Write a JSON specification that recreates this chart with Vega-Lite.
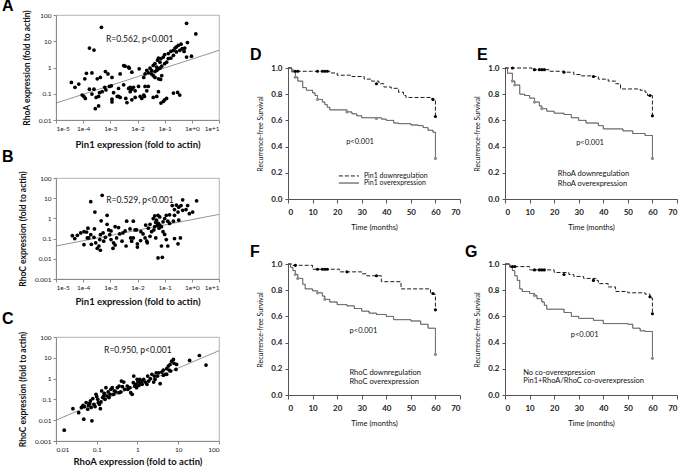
{
"$schema": "https://vega.github.io/schema/vega-lite/v6.json",
"background": "white",
"padding": {"left": 1, "top": -3, "right": 0, "bottom": 0},
"spacing": 29,
"config": {
  "font": "Lato",
  "view": {"stroke": null},
  "text": {"font": "Lato", "color": "#111"},
  "title": {"font": "Liberation Sans", "fontSize": 16, "fontWeight": "bold", "anchor": "start", "frame": "group", "baseline": "alphabetic", "color": "black"},
  "axis": {"grid": false, "labelFont": "Lato", "titleFont": "Lato", "labelColor": "#222", "titleColor": "#111", "tickSize": 3, "labelPadding": 2, "domainColor": "#8a8a8a", "tickColor": "#8a8a8a", "labelOverlap": false}
},
"datasets": {
  "A": [
    {"pin1":0.00047,"rhoa":34},{"pin1":0.64,"rhoa":48},{"pin1":1.4,"rhoa":19},{"pin1":0.00017,"rhoa":5.5},{"pin1":0.00025,"rhoa":4.6},
    {"pin1":0.40,"rhoa":7.7},{"pin1":0.32,"rhoa":7.0},{"pin1":0.27,"rhoa":6.1},{"pin1":0.24,"rhoa":5.5},{"pin1":0.21,"rhoa":4.5},
    {"pin1":0.17,"rhoa":4.1},{"pin1":0.136,"rhoa":3.4},{"pin1":0.10,"rhoa":3.1},{"pin1":0.089,"rhoa":2.5},{"pin1":0.073,"rhoa":2.2},
    {"pin1":0.059,"rhoa":2.3},{"pin1":0.055,"rhoa":1.9},{"pin1":0.067,"rhoa":1.6},{"pin1":0.044,"rhoa":1.4},{"pin1":0.038,"rhoa":1.2},
    {"pin1":0.051,"rhoa":1.03},{"pin1":0.059,"rhoa":0.89},{"pin1":0.033,"rhoa":0.77},{"pin1":0.029,"rhoa":0.94},{"pin1":0.022,"rhoa":0.77},
    {"pin1":0.025,"rhoa":0.62},{"pin1":0.033,"rhoa":0.57},{"pin1":0.044,"rhoa":0.70},{"pin1":0.051,"rhoa":0.77},{"pin1":0.067,"rhoa":0.94},
    {"pin1":0.078,"rhoa":1.12},{"pin1":0.118,"rhoa":1.6},{"pin1":0.136,"rhoa":2.2},{"pin1":0.17,"rhoa":2.3},{"pin1":0.21,"rhoa":2.9},
    {"pin1":0.27,"rhoa":3.9},{"pin1":0.36,"rhoa":4.5},{"pin1":0.44,"rhoa":5.2},{"pin1":0.55,"rhoa":5.5},{"pin1":0.69,"rhoa":8.9},
    {"pin1":0.52,"rhoa":4.1},{"pin1":0.64,"rhoa":2.5},{"pin1":0.97,"rhoa":2.7},{"pin1":0.10,"rhoa":1.4},{"pin1":0.078,"rhoa":0.49},
    {"pin1":0.059,"rhoa":0.37},{"pin1":0.071,"rhoa":0.35},{"pin1":0.038,"rhoa":0.49},{"pin1":0.044,"rhoa":0.42},{"pin1":0.017,"rhoa":0.42},
    {"pin1":0.019,"rhoa":0.57},{"pin1":0.0115,"rhoa":0.89},{"pin1":0.0062,"rhoa":0.66},{"pin1":0.0050,"rhoa":0.94},{"pin1":0.0035,"rhoa":1.12},
    {"pin1":0.059,"rhoa":0.12},{"pin1":0.051,"rhoa":0.079},{"pin1":0.073,"rhoa":0.044},{"pin1":0.089,"rhoa":0.051},{"pin1":0.10,"rhoa":0.059},
    {"pin1":0.118,"rhoa":0.066},{"pin1":0.21,"rhoa":0.106},{"pin1":0.30,"rhoa":0.112},{"pin1":0.36,"rhoa":0.089},{"pin1":0.038,"rhoa":0.072},
    {"pin1":0.019,"rhoa":0.19},{"pin1":0.025,"rhoa":0.19},{"pin1":0.022,"rhoa":0.13},{"pin1":0.017,"rhoa":0.089},{"pin1":0.0144,"rhoa":0.066},
    {"pin1":0.0125,"rhoa":0.079},{"pin1":0.0082,"rhoa":0.072},{"pin1":0.0062,"rhoa":0.059},{"pin1":0.0054,"rhoa":0.12},{"pin1":0.0054,"rhoa":0.175},
    {"pin1":0.0062,"rhoa":0.15},{"pin1":0.0071,"rhoa":0.175},{"pin1":0.0047,"rhoa":0.16},{"pin1":0.0031,"rhoa":0.22},{"pin1":0.0020,"rhoa":0.16},
    {"pin1":0.0023,"rhoa":0.072},{"pin1":0.0018,"rhoa":0.079},{"pin1":0.00115,"rhoa":0.062},{"pin1":0.00132,"rhoa":0.11},{"pin1":0.00109,"rhoa":0.20},
    {"pin1":0.00092,"rhoa":0.19},{"pin1":0.00069,"rhoa":0.14},{"pin1":0.00062,"rhoa":0.175},{"pin1":0.00050,"rhoa":0.12},{"pin1":0.00040,"rhoa":0.11},
    {"pin1":0.00037,"rhoa":0.079},{"pin1":0.00030,"rhoa":0.072},{"pin1":0.00025,"rhoa":0.15},{"pin1":0.00021,"rhoa":0.097},{"pin1":0.00017,"rhoa":0.15},
    {"pin1":0.00012,"rhoa":0.066},{"pin1":0.000106,"rhoa":0.079},{"pin1":0.000092,"rhoa":0.089},{"pin1":0.000069,"rhoa":0.235},{"pin1":0.00005,"rhoa":0.175},
    {"pin1":0.000037,"rhoa":0.27},{"pin1":0.000115,"rhoa":0.37},{"pin1":0.000132,"rhoa":0.6},{"pin1":0.00021,"rhoa":0.62},{"pin1":0.00033,"rhoa":0.37},
    {"pin1":0.00043,"rhoa":0.42},{"pin1":0.00066,"rhoa":0.70},{"pin1":0.00082,"rhoa":0.57},{"pin1":0.00115,"rhoa":0.42},{"pin1":0.0023,"rhoa":0.57},
    {"pin1":0.0031,"rhoa":1.19},{"pin1":0.0047,"rhoa":1.03},{"pin1":0.00037,"rhoa":0.0345},{"pin1":0.00028,"rhoa":0.027},{"pin1":0.00115,"rhoa":0.049},
    {"pin1":0.0020,"rhoa":0.079},{"pin1":0.0037,"rhoa":0.066},{"pin1":0.0041,"rhoa":0.046},{"pin1":0.0109,"rhoa":0.19},{"pin1":0.0082,"rhoa":0.13},
    {"pin1":0.018,"rhoa":0.079}
  ],
  "B": [
    {"pin1":0.0005,"rhoc":13.9},{"pin1":0.00019,"rhoc":6.7},{"pin1":0.00027,"rhoc":2.05},{"pin1":0.00076,"rhoc":1.42},{"pin1":0.00046,"rhoc":0.76},
    {"pin1":1.5,"rhoc":7.4},{"pin1":0.46,"rhoc":8.3},{"pin1":0.40,"rhoc":4.3},{"pin1":0.33,"rhoc":3.6},{"pin1":0.27,"rhoc":4.6},
    {"pin1":0.19,"rhoc":4.3},{"pin1":0.61,"rhoc":2.75},{"pin1":0.70,"rhoc":4.3},{"pin1":1.07,"rhoc":2.05},{"pin1":0.81,"rhoc":1.7},
    {"pin1":0.31,"rhoc":2.05},{"pin1":0.23,"rhoc":1.42},{"pin1":0.33,"rhoc":0.82},{"pin1":0.23,"rhoc":2.75},{"pin1":0.152,"rhoc":1.5},
    {"pin1":0.115,"rhoc":1.42},{"pin1":0.1,"rhoc":0.98},{"pin1":0.13,"rhoc":0.73},{"pin1":0.087,"rhoc":0.68},{"pin1":0.066,"rhoc":1.18},
    {"pin1":0.057,"rhoc":1.42},{"pin1":0.043,"rhoc":1.32},{"pin1":0.038,"rhoc":0.98},{"pin1":0.050,"rhoc":0.82},{"pin1":0.047,"rhoc":0.63},
    {"pin1":0.059,"rhoc":0.56},{"pin1":0.066,"rhoc":0.47},{"pin1":0.076,"rhoc":0.39},{"pin1":0.062,"rhoc":0.33},{"pin1":0.053,"rhoc":0.44},
    {"pin1":0.043,"rhoc":0.39},{"pin1":0.04,"rhoc":0.27},{"pin1":0.029,"rhoc":0.51},{"pin1":0.025,"rhoc":0.33},{"pin1":0.020,"rhoc":0.47},
    {"pin1":0.033,"rhoc":0.22},{"pin1":0.087,"rhoc":0.22},{"pin1":0.1,"rhoc":0.16},{"pin1":0.115,"rhoc":0.09},{"pin1":0.13,"rhoc":0.043},
    {"pin1":0.076,"rhoc":0.043},{"pin1":0.047,"rhoc":0.108},{"pin1":0.057,"rhoc":0.011},{"pin1":0.082,"rhoc":0.0118},{"pin1":0.23,"rhoc":0.1},
    {"pin1":0.31,"rhoc":0.055},{"pin1":0.38,"rhoc":0.108},{"pin1":0.016,"rhoc":0.17},{"pin1":0.019,"rhoc":0.108},{"pin1":0.022,"rhoc":0.074},
    {"pin1":0.013,"rhoc":0.08},{"pin1":0.0099,"rhoc":0.038},{"pin1":0.0099,"rhoc":0.055},{"pin1":0.007,"rhoc":0.108},{"pin1":0.0081,"rhoc":0.27},
    {"pin1":0.0053,"rhoc":0.30},{"pin1":0.0056,"rhoc":0.108},{"pin1":0.0061,"rhoc":0.074},{"pin1":0.0040,"rhoc":0.73},{"pin1":0.0029,"rhoc":0.19},
    {"pin1":0.0027,"rhoc":0.074},{"pin1":0.0020,"rhoc":0.35},{"pin1":0.0015,"rhoc":0.39},{"pin1":0.0022,"rhoc":0.17},{"pin1":0.0017,"rhoc":0.108},
    {"pin1":0.0015,"rhoc":0.048},{"pin1":0.00125,"rhoc":0.033},{"pin1":0.00132,"rhoc":0.062},{"pin1":0.00095,"rhoc":0.156},{"pin1":0.00087,"rhoc":0.27},
    {"pin1":0.00106,"rhoc":0.24},{"pin1":0.00076,"rhoc":0.51},{"pin1":0.00066,"rhoc":0.116},{"pin1":0.00057,"rhoc":0.074},{"pin1":0.00054,"rhoc":0.19},
    {"pin1":0.00043,"rhoc":0.156},{"pin1":0.00041,"rhoc":0.09},{"pin1":0.00038,"rhoc":0.043},{"pin1":0.00043,"rhoc":0.0265},{"pin1":0.00033,"rhoc":0.033},
    {"pin1":0.00029,"rhoc":0.062},{"pin1":0.00025,"rhoc":0.116},{"pin1":0.00026,"rhoc":0.30},{"pin1":0.00019,"rhoc":0.156},{"pin1":0.00016,"rhoc":0.108},
    {"pin1":0.0002,"rhoc":0.052},{"pin1":0.000107,"rhoc":0.05},{"pin1":0.000142,"rhoc":0.108},{"pin1":0.000134,"rhoc":0.21},{"pin1":0.00015,"rhoc":0.33},
    {"pin1":0.000107,"rhoc":0.22},{"pin1":0.000081,"rhoc":0.19},{"pin1":0.000061,"rhoc":0.145},{"pin1":0.00004,"rhoc":0.14},{"pin1":0.000049,"rhoc":0.10},
    {"pin1":0.0035,"rhoc":0.24},{"pin1":0.007,"rhoc":0.73},{"pin1":0.0134,"rhoc":0.22},{"pin1":0.0093,"rhoc":0.27},{"pin1":0.0038,"rhoc":0.043},
    {"pin1":0.00106,"rhoc":0.09},{"pin1":0.029,"rhoc":0.13},{"pin1":0.023,"rhoc":0.062},{"pin1":0.152,"rhoc":0.56},{"pin1":0.21,"rhoc":0.73},
    {"pin1":0.46,"rhoc":2.5}
  ],
  "C": [
    {"rhoa":0.0159,"rhoc":0.0033},{"rhoa":0.026,"rhoc":0.036},{"rhoa":0.036,"rhoc":0.023},{"rhoa":0.048,"rhoc":0.0112},{"rhoa":0.076,"rhoc":0.0093},
    {"rhoa":0.042,"rhoc":0.041},{"rhoa":0.050,"rhoc":0.045},{"rhoa":0.055,"rhoc":0.070},{"rhoa":0.063,"rhoc":0.052},{"rhoa":0.070,"rhoc":0.085},
    {"rhoa":0.073,"rhoc":0.041},{"rhoa":0.085,"rhoc":0.058},{"rhoa":0.080,"rhoc":0.109},{"rhoa":0.096,"rhoc":0.176},{"rhoa":0.106,"rhoc":0.101},
    {"rhoa":0.116,"rhoc":0.058},{"rhoa":0.123,"rhoc":0.036},{"rhoa":0.127,"rhoc":0.076},{"rhoa":0.14,"rhoc":0.122},{"rhoa":0.132,"rhoc":0.254},
    {"rhoa":0.153,"rhoc":0.196},{"rhoa":0.168,"rhoc":0.367},{"rhoa":0.178,"rhoc":0.147},{"rhoa":0.191,"rhoc":0.228},{"rhoa":0.214,"rhoc":0.176},
    {"rhoa":0.222,"rhoc":0.305},{"rhoa":0.258,"rhoc":0.176},{"rhoa":0.294,"rhoc":0.228},{"rhoa":0.353,"rhoc":0.211},{"rhoa":0.353,"rhoc":0.44},
    {"rhoa":0.403,"rhoc":0.766},{"rhoa":0.426,"rhoc":0.41},{"rhoa":0.484,"rhoc":0.305},{"rhoa":0.56,"rhoc":0.44},{"rhoa":0.65,"rhoc":0.367},
    {"rhoa":0.74,"rhoc":0.176},{"rhoa":0.68,"rhoc":0.211},{"rhoa":0.81,"rhoc":1.33},{"rhoa":0.90,"rhoc":0.53},{"rhoa":0.95,"rhoc":0.367},
    {"rhoa":1.02,"rhoc":0.685},{"rhoa":1.08,"rhoc":0.47},{"rhoa":1.18,"rhoc":0.64},{"rhoa":1.30,"rhoc":0.766},{"rhoa":1.14,"rhoc":0.92},
    {"rhoa":1.42,"rhoc":0.92},{"rhoa":1.56,"rhoc":0.685},{"rhoa":1.71,"rhoc":0.53},{"rhoa":1.88,"rhoc":0.766},{"rhoa":2.06,"rhoc":0.99},
    {"rhoa":2.26,"rhoc":1.6},{"rhoa":2.58,"rhoc":1.33},{"rhoa":2.88,"rhoc":1.91},{"rhoa":3.1,"rhoc":1.33},{"rhoa":3.6,"rhoc":0.57},
    {"rhoa":3.95,"rhoc":2.06},{"rhoa":4.3,"rhoc":2.57},{"rhoa":4.75,"rhoc":1.6},{"rhoa":5.2,"rhoc":2.98},{"rhoa":5.7,"rhoc":4.0},
    {"rhoa":6.3,"rhoc":4.8},{"rhoa":6.9,"rhoc":6.9},{"rhoa":7.6,"rhoc":8.3},{"rhoa":7.9,"rhoc":5.4},{"rhoa":8.8,"rhoc":2.77},
    {"rhoa":6.0,"rhoc":2.57},{"rhoa":5.2,"rhoc":1.6},{"rhoa":19,"rhoc":7.5},{"rhoa":33,"rhoc":12.9},{"rhoa":48,"rhoc":4.5},
    {"rhoa":9.1,"rhoc":4.8},{"rhoa":3.3,"rhoc":1.91},{"rhoa":2.7,"rhoc":0.92},{"rhoa":0.98,"rhoc":0.92},{"rhoa":0.79,"rhoc":0.64},
    {"rhoa":0.58,"rhoc":0.305},{"rhoa":0.46,"rhoc":0.685},{"rhoa":0.32,"rhoc":0.367},{"rhoa":0.27,"rhoc":0.254},{"rhoa":0.2,"rhoc":0.122},
    {"rhoa":0.16,"rhoc":0.101},{"rhoa":0.11,"rhoc":0.07},{"rhoa":0.091,"rhoc":0.045},{"rhoa":0.06,"rhoc":0.034},{"rhoa":0.046,"rhoc":0.052},
    {"rhoa":0.067,"rhoc":0.065},{"rhoa":0.10,"rhoc":0.136},{"rhoa":0.148,"rhoc":0.147},{"rhoa":0.24,"rhoc":0.367},{"rhoa":0.39,"rhoc":0.228},
    {"rhoa":0.85,"rhoc":0.44},{"rhoa":1.3,"rhoc":0.53},{"rhoa":1.78,"rhoc":1.33},{"rhoa":4.3,"rhoc":1.43},{"rhoa":6.5,"rhoc":2.3},
    {"rhoa":2.5,"rhoc":0.685}
  ],
  "fitA": [{"pin1":0.00001,"rhoa":0.044},{"pin1":10,"rhoa":4.5}],
  "fitB": [{"pin1":0.00001,"rhoc":0.043},{"pin1":10,"rhoc":1.58}],
  "fitC": [{"rhoa":0.01,"rhoc":0.01},{"rhoa":100,"rhoc":22}],
  "steps": [
    {"p":"D","g":"down","t":0,"s":1},{"p":"D","g":"down","t":2,"s":0.975},{"p":"D","g":"down","t":17,"s":0.962},{"p":"D","g":"down","t":20,"s":0.945},{"p":"D","g":"down","t":26,"s":0.935},{"p":"D","g":"down","t":31,"s":0.915},{"p":"D","g":"down","t":34,"s":0.9},{"p":"D","g":"down","t":37,"s":0.88},{"p":"D","g":"down","t":39,"s":0.855},{"p":"D","g":"down","t":42,"s":0.845},{"p":"D","g":"down","t":45,"s":0.815},{"p":"D","g":"down","t":47,"s":0.79},{"p":"D","g":"down","t":48,"s":0.775},{"p":"D","g":"down","t":58,"s":0.765},{"p":"D","g":"down","t":59,"s":0.755},{"p":"D","g":"down","t":60,"s":0.63},
    {"p":"D","g":"over","t":0,"s":1},{"p":"D","g":"over","t":1.5,"s":0.97},{"p":"D","g":"over","t":3,"s":0.93},{"p":"D","g":"over","t":4,"s":0.9},{"p":"D","g":"over","t":6,"s":0.85},{"p":"D","g":"over","t":7.5,"s":0.83},{"p":"D","g":"over","t":10,"s":0.81},{"p":"D","g":"over","t":11,"s":0.79},{"p":"D","g":"over","t":12,"s":0.76},{"p":"D","g":"over","t":14,"s":0.74},{"p":"D","g":"over","t":15,"s":0.72},{"p":"D","g":"over","t":16,"s":0.7},{"p":"D","g":"over","t":17,"s":0.68},{"p":"D","g":"over","t":24,"s":0.665},{"p":"D","g":"over","t":26,"s":0.65},{"p":"D","g":"over","t":28,"s":0.635},{"p":"D","g":"over","t":30,"s":0.62},{"p":"D","g":"over","t":38,"s":0.61},{"p":"D","g":"over","t":40,"s":0.6},{"p":"D","g":"over","t":43,"s":0.58},{"p":"D","g":"over","t":45,"s":0.575},{"p":"D","g":"over","t":50,"s":0.565},{"p":"D","g":"over","t":53,"s":0.56},{"p":"D","g":"over","t":55,"s":0.545},{"p":"D","g":"over","t":57,"s":0.525},{"p":"D","g":"over","t":59,"s":0.51},{"p":"D","g":"over","t":60,"s":0.31},
    {"p":"E","g":"down","t":0,"s":1},{"p":"E","g":"down","t":11,"s":0.987},{"p":"E","g":"down","t":18,"s":0.975},{"p":"E","g":"down","t":24,"s":0.968},{"p":"E","g":"down","t":28,"s":0.95},{"p":"E","g":"down","t":31,"s":0.94},{"p":"E","g":"down","t":35,"s":0.935},{"p":"E","g":"down","t":38,"s":0.915},{"p":"E","g":"down","t":42,"s":0.9},{"p":"E","g":"down","t":45,"s":0.88},{"p":"E","g":"down","t":47,"s":0.84},{"p":"E","g":"down","t":55,"s":0.83},{"p":"E","g":"down","t":57,"s":0.815},{"p":"E","g":"down","t":58,"s":0.79},{"p":"E","g":"down","t":60,"s":0.635},
    {"p":"E","g":"over","t":0,"s":1},{"p":"E","g":"over","t":1,"s":0.96},{"p":"E","g":"over","t":3,"s":0.9},{"p":"E","g":"over","t":4,"s":0.87},{"p":"E","g":"over","t":6,"s":0.8},{"p":"E","g":"over","t":8,"s":0.79},{"p":"E","g":"over","t":10,"s":0.77},{"p":"E","g":"over","t":12,"s":0.74},{"p":"E","g":"over","t":14,"s":0.71},{"p":"E","g":"over","t":15,"s":0.69},{"p":"E","g":"over","t":17,"s":0.67},{"p":"E","g":"over","t":20,"s":0.655},{"p":"E","g":"over","t":24,"s":0.645},{"p":"E","g":"over","t":27,"s":0.62},{"p":"E","g":"over","t":30,"s":0.6},{"p":"E","g":"over","t":33,"s":0.58},{"p":"E","g":"over","t":38,"s":0.56},{"p":"E","g":"over","t":40,"s":0.535},{"p":"E","g":"over","t":48,"s":0.52},{"p":"E","g":"over","t":52,"s":0.5},{"p":"E","g":"over","t":57,"s":0.485},{"p":"E","g":"over","t":60,"s":0.31},
    {"p":"F","g":"down","t":0,"s":1},{"p":"F","g":"down","t":2,"s":0.99},{"p":"F","g":"down","t":10,"s":0.96},{"p":"F","g":"down","t":21,"s":0.94},{"p":"F","g":"down","t":30,"s":0.925},{"p":"F","g":"down","t":32,"s":0.91},{"p":"F","g":"down","t":38,"s":0.865},{"p":"F","g":"down","t":46,"s":0.81},{"p":"F","g":"down","t":58,"s":0.78},{"p":"F","g":"down","t":59,"s":0.77},{"p":"F","g":"down","t":60,"s":0.65},
    {"p":"F","g":"over","t":0,"s":1},{"p":"F","g":"over","t":1,"s":0.975},{"p":"F","g":"over","t":2,"s":0.95},{"p":"F","g":"over","t":3,"s":0.92},{"p":"F","g":"over","t":4,"s":0.89},{"p":"F","g":"over","t":6,"s":0.845},{"p":"F","g":"over","t":7,"s":0.81},{"p":"F","g":"over","t":10,"s":0.795},{"p":"F","g":"over","t":12,"s":0.78},{"p":"F","g":"over","t":14,"s":0.755},{"p":"F","g":"over","t":15,"s":0.73},{"p":"F","g":"over","t":17,"s":0.71},{"p":"F","g":"over","t":20,"s":0.69},{"p":"F","g":"over","t":24,"s":0.68},{"p":"F","g":"over","t":27,"s":0.66},{"p":"F","g":"over","t":30,"s":0.64},{"p":"F","g":"over","t":33,"s":0.625},{"p":"F","g":"over","t":36,"s":0.615},{"p":"F","g":"over","t":40,"s":0.6},{"p":"F","g":"over","t":43,"s":0.575},{"p":"F","g":"over","t":50,"s":0.565},{"p":"F","g":"over","t":54,"s":0.54},{"p":"F","g":"over","t":57,"s":0.51},{"p":"F","g":"over","t":60,"s":0.31},
    {"p":"G","g":"down","t":0,"s":1},{"p":"G","g":"down","t":2,"s":0.98},{"p":"G","g":"down","t":10,"s":0.955},{"p":"G","g":"down","t":20,"s":0.935},{"p":"G","g":"down","t":26,"s":0.92},{"p":"G","g":"down","t":28,"s":0.905},{"p":"G","g":"down","t":32,"s":0.89},{"p":"G","g":"down","t":37,"s":0.875},{"p":"G","g":"down","t":38,"s":0.85},{"p":"G","g":"down","t":42,"s":0.825},{"p":"G","g":"down","t":45,"s":0.79},{"p":"G","g":"down","t":50,"s":0.78},{"p":"G","g":"down","t":57,"s":0.77},{"p":"G","g":"down","t":59,"s":0.74},{"p":"G","g":"down","t":60,"s":0.62},
    {"p":"G","g":"over","t":0,"s":1},{"p":"G","g":"over","t":2,"s":0.975},{"p":"G","g":"over","t":3,"s":0.95},{"p":"G","g":"over","t":4,"s":0.91},{"p":"G","g":"over","t":5,"s":0.875},{"p":"G","g":"over","t":6,"s":0.81},{"p":"G","g":"over","t":7,"s":0.79},{"p":"G","g":"over","t":10,"s":0.775},{"p":"G","g":"over","t":12,"s":0.76},{"p":"G","g":"over","t":13,"s":0.735},{"p":"G","g":"over","t":15,"s":0.71},{"p":"G","g":"over","t":16,"s":0.685},{"p":"G","g":"over","t":17,"s":0.655},{"p":"G","g":"over","t":24,"s":0.63},{"p":"G","g":"over","t":27,"s":0.6},{"p":"G","g":"over","t":30,"s":0.585},{"p":"G","g":"over","t":36,"s":0.57},{"p":"G","g":"over","t":40,"s":0.545},{"p":"G","g":"over","t":50,"s":0.54},{"p":"G","g":"over","t":52,"s":0.51},{"p":"G","g":"over","t":55,"s":0.49},{"p":"G","g":"over","t":57,"s":0.485},{"p":"G","g":"over","t":60,"s":0.28}
  ],
  "censor": [
    {"p":"D","g":"down","t":3,"s":0.975},{"p":"D","g":"down","t":4,"s":0.975},{"p":"D","g":"down","t":12,"s":0.975},{"p":"D","g":"down","t":14,"s":0.975},{"p":"D","g":"down","t":15,"s":0.975},{"p":"D","g":"down","t":16,"s":0.975},{"p":"D","g":"down","t":36,"s":0.88},{"p":"D","g":"down","t":59,"s":0.76},{"p":"D","g":"down","t":60,"s":0.63},
    {"p":"D","g":"over","t":3,"s":0.93},{"p":"D","g":"over","t":12,"s":0.76},{"p":"D","g":"over","t":24,"s":0.665},{"p":"D","g":"over","t":36,"s":0.615},{"p":"D","g":"over","t":60,"s":0.31},
    {"p":"E","g":"down","t":3,"s":1},{"p":"E","g":"down","t":12,"s":0.987},{"p":"E","g":"down","t":14,"s":0.987},{"p":"E","g":"down","t":15,"s":0.987},{"p":"E","g":"down","t":16,"s":0.987},{"p":"E","g":"down","t":24,"s":0.968},{"p":"E","g":"down","t":36,"s":0.935},{"p":"E","g":"down","t":59,"s":0.79},{"p":"E","g":"down","t":60,"s":0.635},
    {"p":"E","g":"over","t":3,"s":0.9},{"p":"E","g":"over","t":4,"s":0.87},{"p":"E","g":"over","t":12,"s":0.74},{"p":"E","g":"over","t":15,"s":0.69},{"p":"E","g":"over","t":60,"s":0.31},
    {"p":"F","g":"down","t":3,"s":0.99},{"p":"F","g":"down","t":12,"s":0.96},{"p":"F","g":"down","t":14,"s":0.96},{"p":"F","g":"down","t":15,"s":0.96},{"p":"F","g":"down","t":16,"s":0.96},{"p":"F","g":"down","t":24,"s":0.94},{"p":"F","g":"down","t":36,"s":0.91},{"p":"F","g":"down","t":59,"s":0.775},{"p":"F","g":"down","t":60,"s":0.65},
    {"p":"F","g":"over","t":3,"s":0.92},{"p":"F","g":"over","t":4,"s":0.89},{"p":"F","g":"over","t":12,"s":0.78},{"p":"F","g":"over","t":15,"s":0.73},{"p":"F","g":"over","t":60,"s":0.31},
    {"p":"G","g":"down","t":3,"s":0.98},{"p":"G","g":"down","t":4,"s":0.98},{"p":"G","g":"down","t":12,"s":0.955},{"p":"G","g":"down","t":14,"s":0.955},{"p":"G","g":"down","t":15,"s":0.955},{"p":"G","g":"down","t":16,"s":0.955},{"p":"G","g":"down","t":24,"s":0.92},{"p":"G","g":"down","t":36,"s":0.875},{"p":"G","g":"down","t":59,"s":0.75},{"p":"G","g":"down","t":60,"s":0.62},
    {"p":"G","g":"over","t":12,"s":0.76},{"p":"G","g":"over","t":60,"s":0.28}
  ]
},
"resolve": {"scale": {"x": "independent", "y": "independent"}},
"hconcat": [
  {
    "vconcat": [
      {
        "title": {"text": "A", "dx": -54, "offset": -4},
        "width": 163, "height": 105,
        "view": {"stroke": "#a0a0a0", "strokeWidth": 0.8},
        "layer": [
          {"data": {"name": "fitA"}, "mark": {"type": "line", "color": "#666", "strokeWidth": 0.7},
           "encoding": {
             "x": {"field": "pin1", "type": "quantitative", "scale": {"type": "log", "domain": [0.00001, 10], "nice": false},
                   "axis": {"title": "Pin1 expression (fold to actin)", "values": [0.00001,0.0001,0.001,0.01,0.1,1,10], "tickCount": 20, "labelExpr": "'1e' + (datum.value >= 1 ? '+' : '') + round(log(datum.value)/LN10)", "labelFontSize": 6.5, "titleFontSize": 9.5, "titleFontWeight": "bold", "titlePadding": 8, "labelOverlap": false}},
             "y": {"field": "rhoa", "type": "quantitative", "scale": {"type": "log", "domain": [0.01, 100], "nice": false},
                   "axis": {"title": "RhoA expression (fold to actin)", "values": [0.01,0.1,1,10,100], "tickCount": 20, "format": "~g", "labelFontSize": 6.5, "titleFontSize": 8.5, "titleFontWeight": "bold", "titlePadding": 7, "labelOverlap": false}}
           }},
          {"data": {"name": "A"}, "mark": {"type": "circle", "size": 14, "color": "black", "opacity": 1},
           "encoding": {"x": {"field": "pin1", "type": "quantitative"}, "y": {"field": "rhoa", "type": "quantitative"}}},
          {"data": {"values": [{"label": "R=0.562, p<0.001"}]}, "mark": {"type": "text", "fontSize": 8.5},
           "encoding": {"x": {"datum": 0.012}, "y": {"datum": 12.6}, "text": {"field": "label"}}}
        ]
      },
      {
        "title": {"text": "B", "dx": -54, "offset": 6},
        "width": 163, "height": 101,
        "view": {"stroke": "#a0a0a0", "strokeWidth": 0.8},
        "layer": [
          {"data": {"name": "fitB"}, "mark": {"type": "line", "color": "#666", "strokeWidth": 0.7},
           "encoding": {
             "x": {"field": "pin1", "type": "quantitative", "scale": {"type": "log", "domain": [0.00001, 10], "nice": false},
                   "axis": {"title": "Pin1 expression (fold to actin)", "values": [0.00001,0.0001,0.001,0.01,0.1,1,10], "tickCount": 20, "labelExpr": "'1e' + (datum.value >= 1 ? '+' : '') + round(log(datum.value)/LN10)", "labelFontSize": 6.5, "titleFontSize": 9.5, "titleFontWeight": "bold", "titlePadding": 6, "labelOverlap": false}},
             "y": {"field": "rhoc", "type": "quantitative", "scale": {"type": "log", "domain": [0.001, 100], "nice": false},
                   "axis": {"title": "RhoC expression (fold to actin)", "values": [0.001,0.01,0.1,1,10,100], "tickCount": 20, "format": "~g", "labelFontSize": 6.5, "titleFontSize": 8.5, "titleFontWeight": "bold", "titlePadding": 7, "labelOverlap": false}}
           }},
          {"data": {"name": "B"}, "mark": {"type": "circle", "size": 14, "color": "black", "opacity": 1},
           "encoding": {"x": {"field": "pin1", "type": "quantitative"}, "y": {"field": "rhoc", "type": "quantitative"}}},
          {"data": {"values": [{"label": "R=0.529, p<0.001"}]}, "mark": {"type": "text", "fontSize": 8.5},
           "encoding": {"x": {"datum": 0.0123}, "y": {"datum": 8.3}, "text": {"field": "label"}}}
        ]
      },
      {
        "title": {"text": "C", "dx": -54, "offset": 4},
        "width": 163, "height": 104,
        "view": {"stroke": "#a0a0a0", "strokeWidth": 0.8},
        "layer": [
          {"data": {"name": "fitC"}, "mark": {"type": "line", "color": "#666", "strokeWidth": 0.7},
           "encoding": {
             "x": {"field": "rhoa", "type": "quantitative", "scale": {"type": "log", "domain": [0.01, 100], "nice": false},
                   "axis": {"title": "RhoA expression (fold to actin)", "values": [0.01,0.1,1,10,100], "tickCount": 20, "format": "~g", "labelFontSize": 6.5, "titleFontSize": 9.5, "titleFontWeight": "bold", "titlePadding": 4, "labelOverlap": false}},
             "y": {"field": "rhoc", "type": "quantitative", "scale": {"type": "log", "domain": [0.001, 100], "nice": false},
                   "axis": {"title": "RhoC expression (fold to actin)", "values": [0.001,0.01,0.1,1,10,100], "tickCount": 20, "format": "~g", "labelFontSize": 6.5, "titleFontSize": 8.5, "titleFontWeight": "bold", "titlePadding": 7, "labelOverlap": false}}
           }},
          {"data": {"name": "C"}, "mark": {"type": "circle", "size": 14, "color": "black", "opacity": 1},
           "encoding": {"x": {"field": "rhoa", "type": "quantitative"}, "y": {"field": "rhoc", "type": "quantitative"}}},
          {"data": {"values": [{"label": "R=0.950, p<0.001"}]}, "mark": {"type": "text", "fontSize": 8.5},
           "encoding": {"x": {"datum": 1.02}, "y": {"datum": 23}, "text": {"field": "label"}}}
        ]
      }
    ],
    "spacing": 58,
    "bounds": "flush",
    "resolve": {"scale": {"x": "independent", "y": "independent"}}
  },
  {
    "vconcat": [
      {"width": 10, "height": 1, "data": {"values": [{}]}, "mark": {"type": "point", "opacity": 0, "size": 1}, "encoding": {}},
      {
        "vconcat": [
          {
            "hconcat": [
              {
                "title": {"text": "D", "dx": -38, "offset": 1},
                "width": 172, "height": 131,
                "layer": [
                  {"data": {"name": "steps"}, "transform": [{"filter": "datum.p == 'D'"}],
                   "mark": {"type": "line", "interpolate": "step-after", "strokeWidth": 1},
                   "encoding": {
                     "x": {"field": "t", "type": "quantitative", "scale": {"domain": [0, 70], "nice": false},
                           "axis": {"title": "Time (months)", "values": [0,10,20,30,40,50,60,70], "tickCount": 20, "labelOverlap": false, "labelFontSize": 8, "labelFontWeight": "bold", "titleFontSize": 7.5, "titleFontWeight": "normal", "tickSize": 4, "labelPadding": 5, "titlePadding": 7, "domainColor": "#555", "tickColor": "#555"}},
                     "y": {"field": "s", "type": "quantitative", "scale": {"domain": [0, 1], "nice": false},
                           "axis": {"title": "Recurrence-free Survival", "values": [0,0.2,0.4,0.6,0.8,1], "tickCount": 20, "labelOverlap": false, "format": ".1f", "labelFontSize": 8, "labelFontWeight": "bold", "titleFontSize": 7, "titleFontWeight": "normal", "tickSize": 3, "labelPadding": 3, "titlePadding": 7, "domainColor": "#555", "tickColor": "#555"}},
                     "strokeDash": {"field": "g", "type": "nominal", "scale": {"domain": ["down", "over"], "range": [[4, 2], [1, 0]]}, "legend": null},
                     "color": {"field": "g", "type": "nominal", "scale": {"domain": ["down", "over"], "range": ["#1e1e1e", "#3c3c3c"]}, "legend": null}
                   }},
                  {"data": {"name": "censor"}, "transform": [{"filter": "datum.p == 'D'"}],
                   "mark": {"type": "circle", "size": 10, "opacity": 1},
                   "encoding": {"x": {"field": "t", "type": "quantitative"}, "y": {"field": "s", "type": "quantitative"},
                     "fill": {"field": "g", "type": "nominal", "scale": {"domain": ["down", "over"], "range": ["#000000", "#8c8c8c"]}, "legend": null}}},
                  {"data": {"values": [{"label": "p<0.001"}]}, "mark": {"type": "text", "fontSize": 7.5},
                   "encoding": {"x": {"datum": 29.3}, "y": {"datum": 0.435}, "text": {"field": "label"}}},
                  {"data": {"values": [{}]}, "mark": {"type": "rule", "strokeDash": [4, 2], "color": "#1e1e1e", "strokeWidth": 1},
                   "encoding": {"x": {"datum": 20.7}, "x2": {"datum": 28.9}, "y": {"datum": 0.176}}},
                  {"data": {"values": [{}]}, "mark": {"type": "rule", "color": "#3c3c3c", "strokeWidth": 1},
                   "encoding": {"x": {"datum": 20.7}, "x2": {"datum": 28.9}, "y": {"datum": 0.122}}},
                  {"data": {"values": [{"label": ["Pin1 downregulation", "Pin1 overexpression"]}]}, "mark": {"type": "text", "fontSize": 7, "align": "left", "baseline": "top", "lineHeight": 7.3},
                   "encoding": {"x": {"datum": 30.9}, "y": {"datum": 0.205}, "text": {"field": "label"}}}
                ]
              },
              {
                "title": {"text": "E", "dx": -28, "offset": 1},
                "width": 172, "height": 131,
                "layer": [
                  {"data": {"name": "steps"}, "transform": [{"filter": "datum.p == 'E'"}],
                   "mark": {"type": "line", "interpolate": "step-after", "strokeWidth": 1},
                   "encoding": {
                     "x": {"field": "t", "type": "quantitative", "scale": {"domain": [0, 70], "nice": false},
                           "axis": {"title": "Time (months)", "values": [0,10,20,30,40,50,60,70], "tickCount": 20, "labelOverlap": false, "labelFontSize": 8, "labelFontWeight": "bold", "titleFontSize": 7.5, "titleFontWeight": "normal", "tickSize": 4, "labelPadding": 5, "titlePadding": 7, "domainColor": "#555", "tickColor": "#555"}},
                     "y": {"field": "s", "type": "quantitative", "scale": {"domain": [0, 1], "nice": false},
                           "axis": {"title": "Recurrence-free Survival", "values": [0,0.2,0.4,0.6,0.8,1], "tickCount": 20, "labelOverlap": false, "format": ".1f", "labelFontSize": 8, "labelFontWeight": "bold", "titleFontSize": 7, "titleFontWeight": "normal", "tickSize": 3, "labelPadding": 3, "titlePadding": 7, "domainColor": "#555", "tickColor": "#555"}},
                     "strokeDash": {"field": "g", "type": "nominal", "scale": {"domain": ["down", "over"], "range": [[4, 2], [1, 0]]}, "legend": null},
                     "color": {"field": "g", "type": "nominal", "scale": {"domain": ["down", "over"], "range": ["#1e1e1e", "#3c3c3c"]}, "legend": null}
                   }},
                  {"data": {"name": "censor"}, "transform": [{"filter": "datum.p == 'E'"}],
                   "mark": {"type": "circle", "size": 10, "opacity": 1},
                   "encoding": {"x": {"field": "t", "type": "quantitative"}, "y": {"field": "s", "type": "quantitative"},
                     "fill": {"field": "g", "type": "nominal", "scale": {"domain": ["down", "over"], "range": ["#000000", "#8c8c8c"]}, "legend": null}}},
                  {"data": {"values": [{"label": "p<0.001"}]}, "mark": {"type": "text", "fontSize": 7.5},
                   "encoding": {"x": {"datum": 34.6}, "y": {"datum": 0.43}, "text": {"field": "label"}}},
                  {"data": {"values": [{"label": ["RhoA downregulation", "RhoA overexpression"]}]}, "mark": {"type": "text", "fontSize": 7.5, "align": "left", "baseline": "top", "lineHeight": 10},
                   "encoding": {"x": {"datum": 21.5}, "y": {"datum": 0.222}, "text": {"field": "label"}}}
                ]
              }
            ],
            "spacing": 45,
            "bounds": "flush",
            "resolve": {"scale": {"x": "independent", "y": "independent"}}
          },
          {
            "hconcat": [
              {
                "title": {"text": "F", "dx": -38, "offset": 0},
                "width": 172, "height": 131,
                "layer": [
                  {"data": {"name": "steps"}, "transform": [{"filter": "datum.p == 'F'"}],
                   "mark": {"type": "line", "interpolate": "step-after", "strokeWidth": 1},
                   "encoding": {
                     "x": {"field": "t", "type": "quantitative", "scale": {"domain": [0, 70], "nice": false},
                           "axis": {"title": "Time (months)", "values": [0,10,20,30,40,50,60,70], "tickCount": 20, "labelOverlap": false, "labelFontSize": 8, "labelFontWeight": "bold", "titleFontSize": 7.5, "titleFontWeight": "normal", "tickSize": 4, "labelPadding": 5, "titlePadding": 7, "domainColor": "#555", "tickColor": "#555"}},
                     "y": {"field": "s", "type": "quantitative", "scale": {"domain": [0, 1], "nice": false},
                           "axis": {"title": "Recurrence-free Survival", "values": [0,0.2,0.4,0.6,0.8,1], "tickCount": 20, "labelOverlap": false, "format": ".1f", "labelFontSize": 8, "labelFontWeight": "bold", "titleFontSize": 7, "titleFontWeight": "normal", "tickSize": 3, "labelPadding": 3, "titlePadding": 7, "domainColor": "#555", "tickColor": "#555"}},
                     "strokeDash": {"field": "g", "type": "nominal", "scale": {"domain": ["down", "over"], "range": [[4, 2], [1, 0]]}, "legend": null},
                     "color": {"field": "g", "type": "nominal", "scale": {"domain": ["down", "over"], "range": ["#1e1e1e", "#3c3c3c"]}, "legend": null}
                   }},
                  {"data": {"name": "censor"}, "transform": [{"filter": "datum.p == 'F'"}],
                   "mark": {"type": "circle", "size": 10, "opacity": 1},
                   "encoding": {"x": {"field": "t", "type": "quantitative"}, "y": {"field": "s", "type": "quantitative"},
                     "fill": {"field": "g", "type": "nominal", "scale": {"domain": ["down", "over"], "range": ["#000000", "#8c8c8c"]}, "legend": null}}},
                  {"data": {"values": [{"label": "p<0.001"}]}, "mark": {"type": "text", "fontSize": 7.5},
                   "encoding": {"x": {"datum": 30.7}, "y": {"datum": 0.485}, "text": {"field": "label"}}},
                  {"data": {"values": [{"label": ["RhoC downregulation", "RhoC overexpression"]}]}, "mark": {"type": "text", "fontSize": 7.5, "align": "left", "baseline": "top", "lineHeight": 9.7},
                   "encoding": {"x": {"datum": 25}, "y": {"datum": 0.2}, "text": {"field": "label"}}}
                ]
              },
              {
                "title": {"text": "G", "dx": -40, "offset": 0},
                "width": 172, "height": 131,
                "layer": [
                  {"data": {"name": "steps"}, "transform": [{"filter": "datum.p == 'G'"}],
                   "mark": {"type": "line", "interpolate": "step-after", "strokeWidth": 1},
                   "encoding": {
                     "x": {"field": "t", "type": "quantitative", "scale": {"domain": [0, 70], "nice": false},
                           "axis": {"title": "Time (months)", "values": [0,10,20,30,40,50,60,70], "tickCount": 20, "labelOverlap": false, "labelFontSize": 8, "labelFontWeight": "bold", "titleFontSize": 7.5, "titleFontWeight": "normal", "tickSize": 4, "labelPadding": 5, "titlePadding": 7, "domainColor": "#555", "tickColor": "#555"}},
                     "y": {"field": "s", "type": "quantitative", "scale": {"domain": [0, 1], "nice": false},
                           "axis": {"title": "Recurrence-free Survival", "values": [0,0.2,0.4,0.6,0.8,1], "tickCount": 20, "labelOverlap": false, "format": ".1f", "labelFontSize": 8, "labelFontWeight": "bold", "titleFontSize": 7, "titleFontWeight": "normal", "tickSize": 3, "labelPadding": 3, "titlePadding": 7, "domainColor": "#555", "tickColor": "#555"}},
                     "strokeDash": {"field": "g", "type": "nominal", "scale": {"domain": ["down", "over"], "range": [[4, 2], [1, 0]]}, "legend": null},
                     "color": {"field": "g", "type": "nominal", "scale": {"domain": ["down", "over"], "range": ["#1e1e1e", "#3c3c3c"]}, "legend": null}
                   }},
                  {"data": {"name": "censor"}, "transform": [{"filter": "datum.p == 'G'"}],
                   "mark": {"type": "circle", "size": 10, "opacity": 1},
                   "encoding": {"x": {"field": "t", "type": "quantitative"}, "y": {"field": "s", "type": "quantitative"},
                     "fill": {"field": "g", "type": "nominal", "scale": {"domain": ["down", "over"], "range": ["#000000", "#8c8c8c"]}, "legend": null}}},
                  {"data": {"values": [{"label": "p<0.001"}]}, "mark": {"type": "text", "fontSize": 7.5},
                   "encoding": {"x": {"datum": 32.4}, "y": {"datum": 0.46}, "text": {"field": "label"}}},
                  {"data": {"values": [{"label": ["No co-overexpression", "Pin1+RhoA/RhoC co-overexpression"]}]}, "mark": {"type": "text", "fontSize": 7.5, "align": "left", "baseline": "top", "lineHeight": 7.8},
                   "encoding": {"x": {"datum": 7.4}, "y": {"datum": 0.197}, "text": {"field": "label"}}}
                ]
              }
            ],
            "spacing": 45,
            "bounds": "flush",
            "resolve": {"scale": {"x": "independent", "y": "independent"}}
          }
        ],
        "spacing": 13,
        "resolve": {"scale": {"x": "independent", "y": "independent"}}
      }
    ],
    "spacing": 31,
    "resolve": {"scale": {"x": "independent", "y": "independent"}}
  }
]
}
